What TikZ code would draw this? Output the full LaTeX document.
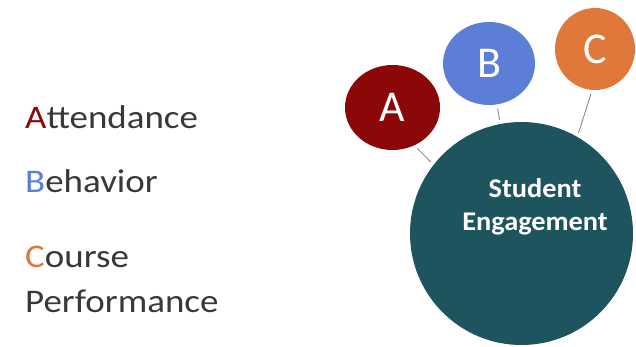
\documentclass[tikz,border=0pt]{standalone}
\usepackage{fontspec}
\setmainfont{Carlito}
\usetikzlibrary{shapes.geometric}
\colorlet{penColor}{black!78}
\definecolor{colorA}{RGB}{140,8,8}
\definecolor{colorB}{RGB}{92,126,214}
\definecolor{colorC}{RGB}{224,120,60}
\definecolor{colorSE}{RGB}{30,84,94}
\tikzset{
	bubble/.style={ellipse, inner sep=0pt, text=white, font=\fontsize{44}{50}\selectfont},
	link/.style={draw=gray, thick, shorten >=4pt, shorten <=4pt},
	legend/.style={anchor=base west, inner sep=0pt, text=penColor, align=left, xscale=1.12, font=\fontsize{33}{45}\selectfont},
}

\begin{document}
\begin{tikzpicture}[x=1pt, y=-1pt]
				\useasboundingbox [fill=white] (0,0) rectangle (636,346);
				% the three factors
				\node [bubble, fill=colorA, minimum width=95pt, minimum height=85pt] (A) at (392.5,107.5) {A};
				\node [bubble, fill=colorB, minimum width=92pt, minimum height=83pt] (B) at (489,63.5) {B};
				\node [bubble, fill=colorC, minimum width=80pt, minimum height=82pt] (C) at (595,49) {C};
				\node [circle, fill=colorSE, minimum size=223pt, inner sep=0pt] (SE) at (521.5,233.5) {};
				\node [text=white, align=center, xscale=1.05, font=\bfseries\fontsize{27}{33}\selectfont] (selabel) at (535,207) {Student\\Engagement};
				\draw [link] (A.-60) -- (SE.142);
				\draw [link] (B.-79) -- (SE.101);
				\draw [link] (C.-94) -- (SE.60);
				% legend
				\node [legend] (att) at (25,128) {\textcolor{colorA}{A}ttendance};
				\node [legend] (beh) at (25,192) {\textcolor{colorB}{B}ehavior};
				\node [legend] (cou) at (25,312) {\textcolor{colorC}{C}ourse\\Performance};
\end{tikzpicture}
\end{document}
